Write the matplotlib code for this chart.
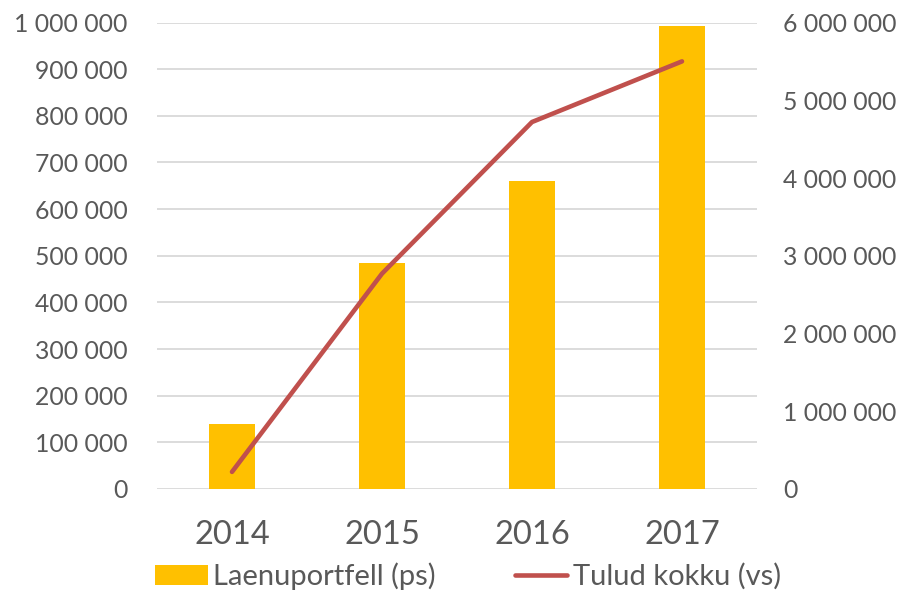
import matplotlib.pyplot as plt
import matplotlib.ticker as mticker
import numpy as np

plt.rcParams['font.family'] = ['Lato', 'DejaVu Sans']

# Data
years = ['2014', '2015', '2016', '2017']
laenuportfell = [139000, 485000, 660000, 992000]      # left axis (ps), bars
tulud_kokku = [220000, 2770000, 4720000, 5500000]     # right axis (vs), line

bar_color = '#FFC000'
line_color = '#C0504D'
text_color = '#595959'
grid_color = '#D9D9D9'

fig = plt.figure(figsize=(9.01, 5.94), dpi=100)
ax = fig.add_axes([157 / 901, 105 / 594, 600 / 901, 466.5 / 594])
ax2 = ax.twinx()

x = np.arange(len(years))
ax.bar(x, laenuportfell, width=0.31, color=bar_color, zorder=2,
       label='Laenuportfell (ps)')
ax2.plot(x, tulud_kokku, color=line_color, linewidth=3.3,
         solid_capstyle='round', solid_joinstyle='round', zorder=3,
         label='Tulud kokku (vs)')

ax.set_xlim(-0.5, len(years) - 0.5)
ax.set_ylim(0, 1000000)
ax2.set_ylim(0, 6000000)
ax.set_yticks(np.arange(0, 1000001, 100000))
ax2.set_yticks(np.arange(0, 6000001, 1000000))

fmt = mticker.FuncFormatter(lambda v, p: f'{int(v):,}'.replace(',', ' '))
ax.yaxis.set_major_formatter(fmt)
ax2.yaxis.set_major_formatter(fmt)

ax.set_xticks(x)
ax.set_xticklabels(years)

ax.grid(axis='y', color=grid_color, linewidth=1.3, zorder=0)
ax.set_axisbelow(True)

for a in (ax, ax2):
    for s in a.spines.values():
        s.set_visible(False)

ax.tick_params(axis='y', length=0, pad=21, labelsize=17.8, labelcolor=text_color)
ax2.tick_params(axis='y', length=0, pad=19, labelsize=17.8, labelcolor=text_color)
ax.tick_params(axis='x', length=0, pad=22, labelsize=23.5, labelcolor=text_color)

# Legend
handles = ax.get_legend_handles_labels()[0] + ax2.get_legend_handles_labels()[0]
labels = ['Laenuportfell (ps)', 'Tulud kokku (vs)']
fig.legend(handles, labels, loc='center left', bbox_to_anchor=(155 / 901, 0.03),
           ncol=2, frameon=False, fontsize=21, labelcolor=text_color,
           borderpad=0, borderaxespad=0,
           handlelength=1.8, handleheight=0.7, handletextpad=0.2,
           columnspacing=2.7)

fig.savefig('out.png', dpi=100)
